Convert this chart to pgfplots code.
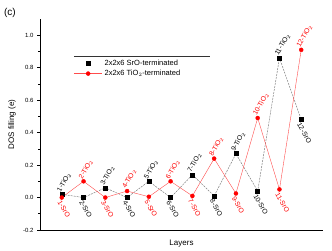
\documentclass[border=0pt]{standalone}
\usepackage{fontspec}
\setmainfont{Liberation Sans}
\usepackage{pgfplots}
\pgfplotsset{compat=1.18}
\definecolor{myred}{RGB}{255,0,0}
\begin{document}
\begin{tikzpicture}
\useasboundingbox (-40pt,-20pt) rectangle (292pt,230pt);
\begin{axis}[
  scale only axis, width=283pt, height=211pt,
  at={(0pt,0pt)}, anchor=south west,
  axis lines*=left,
  axis line style={line width=0.8pt},
  xmin=0, xmax=13, ymin=-0.2, ymax=1.1,
  xtick=\empty,
  ytick={-0.2,0,0.2,0.4,0.6,0.8,1.0},
  minor y tick num=1,
  tick align=outside, tick pos=left,
  major tick length=3pt, minor tick length=1.6pt,
  tick style={line width=0.6pt, black},
  yticklabel style={/pgf/number format/fixed,/pgf/number format/precision=1,/pgf/number format/fixed zerofill, font=\fontsize{6}{7}\selectfont},
  /pgf/number format/assume math mode=true,
  ylabel={DOS filling (e)}, ylabel style={font=\fontsize{8}{9}\selectfont, at={(axis description cs:-0.099,0.5)}, anchor=center},
  xlabel={Layers}, xlabel style={font=\fontsize{8}{9}\selectfont, at={(axis description cs:0.5,-0.062)}, anchor=center},
  legend style={draw=none, fill=none, at={(rel axis cs:0.115,0.82)}, anchor=north west, font=\fontsize{7.5}{9}\selectfont, row sep=-1pt, inner sep=1pt},
  legend cell align=left,
  legend image code/.code={\draw[mark repeat=2,mark phase=2,#1] plot coordinates {(0cm,0cm) (0.5cm,0cm) (1.0cm,0cm)};},
  clip=false,
]
\addlegendimage{only marks, mark=square*, black, mark size=2pt}
\addlegendentry{2x2x6 SrO-terminated}
\addlegendimage{myred!70, line width=0.4pt, mark=*, mark options={myred, solid}, mark size=2pt}
\addlegendentry{2x2x6 TiO$_2$-terminated}

\addplot[forget plot, gray, dashed, dash pattern=on 2pt off 1pt, line width=0.5pt, mark=square*, mark size=2pt, mark options={black, solid}] coordinates {
(1,0.02) (2,0.0) (3,0.06) (4,0.0) (5,0.10) (6,0.0) (7,0.14) (8,0.01) (9,0.27) (10,0.04) (11,0.86) (12,0.48)};
\addplot[forget plot, myred!70, line width=0.4pt, mark=*, mark size=2pt, mark options={myred}] coordinates {
(1,0.0) (2,0.10) (3,0.0) (4,0.04) (5,0.005) (6,0.10) (7,0.01) (8,0.24) (9,0.025) (10,0.49) (11,0.05) (12,0.91)};

% labels above (black, TiO2)
\addplot[forget plot, draw=none, mark=none, nodes near coords, point meta=explicit symbolic,
  nodes near coords style={black, rotate=60, anchor=west, font=\fontsize{6.8}{7}\selectfont, inner sep=0.5pt, xshift=0.5pt, yshift=4pt}]
  table[meta=l] {
x y l
1 0.02 1-TiO$_2$
3 0.06 3-TiO$_2$
5 0.10 5-TiO$_2$
7 0.14 7-TiO$_2$
9 0.27 9-TiO$_2$
11 0.86 11-TiO$_2$
};
% labels below (black, SrO)
\addplot[forget plot, draw=none, mark=none, nodes near coords, point meta=explicit symbolic,
  nodes near coords style={black, rotate=-60, anchor=west, font=\fontsize{6.8}{7}\selectfont, inner sep=0.5pt, xshift=1.5pt, yshift=-4pt}]
  table[meta=l] {
x y l
2 0.0 2-SrO
4 0.0 4-SrO
6 0.0 6-SrO
8 0.01 8-SrO
10 0.04 10-SrO
12 0.48 12-SrO
};
% labels above (red, TiO2)
\addplot[forget plot, draw=none, mark=none, nodes near coords, point meta=explicit symbolic,
  nodes near coords style={myred, rotate=60, anchor=west, font=\fontsize{6.8}{7}\selectfont, inner sep=0.5pt, xshift=0.5pt, yshift=4pt}]
  table[meta=l] {
x y l
2 0.10 2-TiO$_2$
4 0.04 4-TiO$_2$
6 0.10 6-TiO$_2$
8 0.24 8-TiO$_2$
10 0.49 10-TiO$_2$
12 0.91 12-TiO$_2$
};
% labels below (red, SrO)
\addplot[forget plot, draw=none, mark=none, nodes near coords, point meta=explicit symbolic,
  nodes near coords style={myred, rotate=-60, anchor=west, font=\fontsize{6.8}{7}\selectfont, inner sep=0.5pt, xshift=1.5pt, yshift=-4pt}]
  table[meta=l] {
x y l
1 0.0 1-SrO
3 0.0 3-SrO
5 0.005 5-SrO
7 0.01 7-SrO
9 0.025 9-SrO
11 0.05 11-SrO
};
\draw[line width=0.5pt, black!80] (rel axis cs:0.12,0.825) -- (rel axis cs:0.60,0.825);
\end{axis}
\node[font=\fontsize{10}{12}\selectfont] at (-30pt,217pt) {(c)};
\end{tikzpicture}
\end{document}
